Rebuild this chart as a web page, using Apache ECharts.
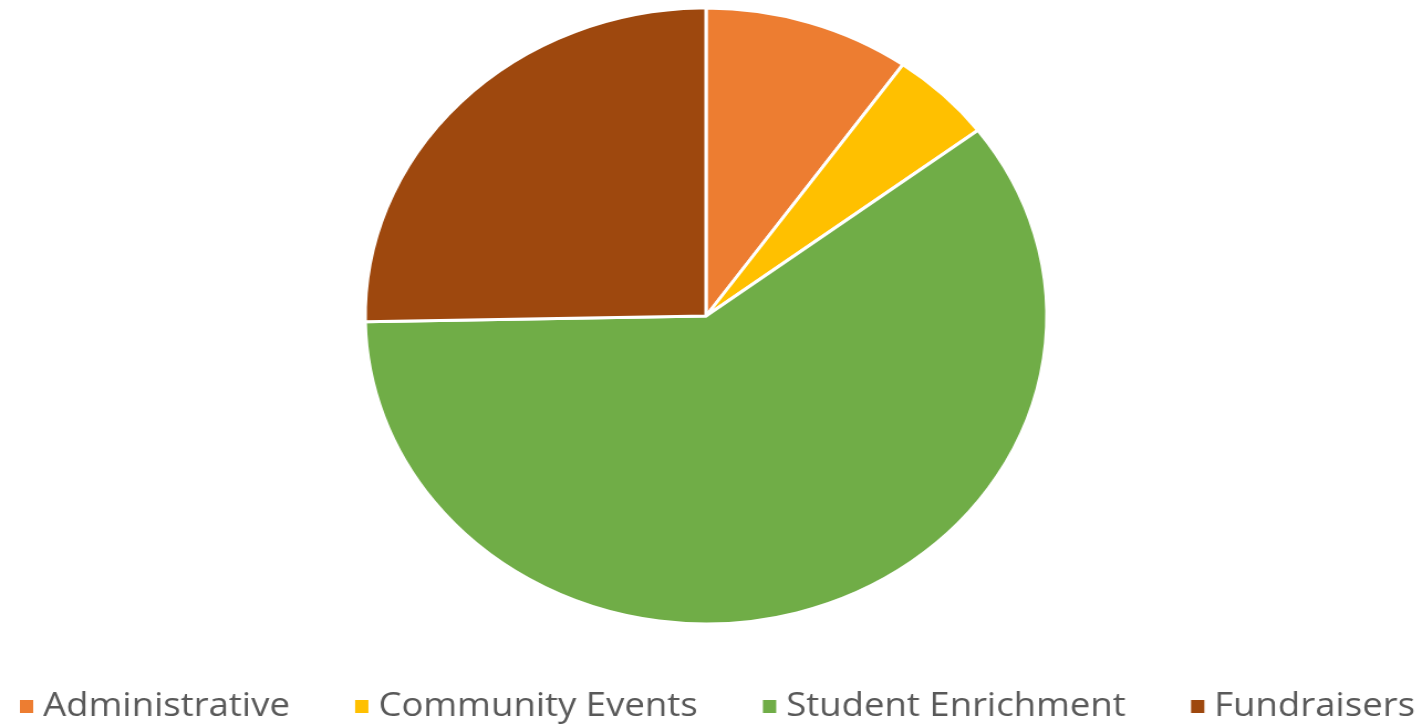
<!DOCTYPE html>
<html>
<head>
<meta charset="utf-8">
<script src="https://cdn.jsdelivr.net/npm/echarts@6/dist/echarts.min.js"></script>
<style>
html,body{margin:0;padding:0;background:#fff;overflow:hidden;}
#wrap{width:1422px;height:724px;overflow:hidden;}
#chart{width:1285px;height:724px;transform:scaleX(1.1066);transform-origin:0 0;}
</style>
</head>
<body>
<div id="wrap"><div id="chart"></div></div>
<script>
var categories = ['Administrative', 'Community Events', 'Student Enrichment', 'Fundraisers'];
var values = [9.8, 4.9, 60.0, 25.3];
var colors = ['#ED7D31', '#FFC000', '#70AD47', '#9E480E'];

var chart = echarts.init(document.getElementById('chart'), null, {renderer: 'canvas'});
chart.setOption({
  animation: false,
  color: colors,
  legend: {
    data: categories,
    orient: 'horizontal',
    left: 11,
    top: 685,
    itemWidth: 14,
    itemHeight: 15,
    itemGap: 57,
    icon: 'rect',
    textStyle: {fontFamily: 'Open Sans', fontSize: 33, color: '#595959', padding: [0,0,0,3]}
  },
  series: [{
    type: 'pie',
    center: [638, 316],
    radius: [0, 308],
    startAngle: 90,
    clockwise: true,
    label: {show: false},
    labelLine: {show: false},
    itemStyle: {borderColor: '#ffffff', borderWidth: 3},
    emphasis: {disabled: true},
    data: categories.map(function (c, i) { return {name: c, value: values[i]}; })
  }]
});
</script>
</body>
</html>
